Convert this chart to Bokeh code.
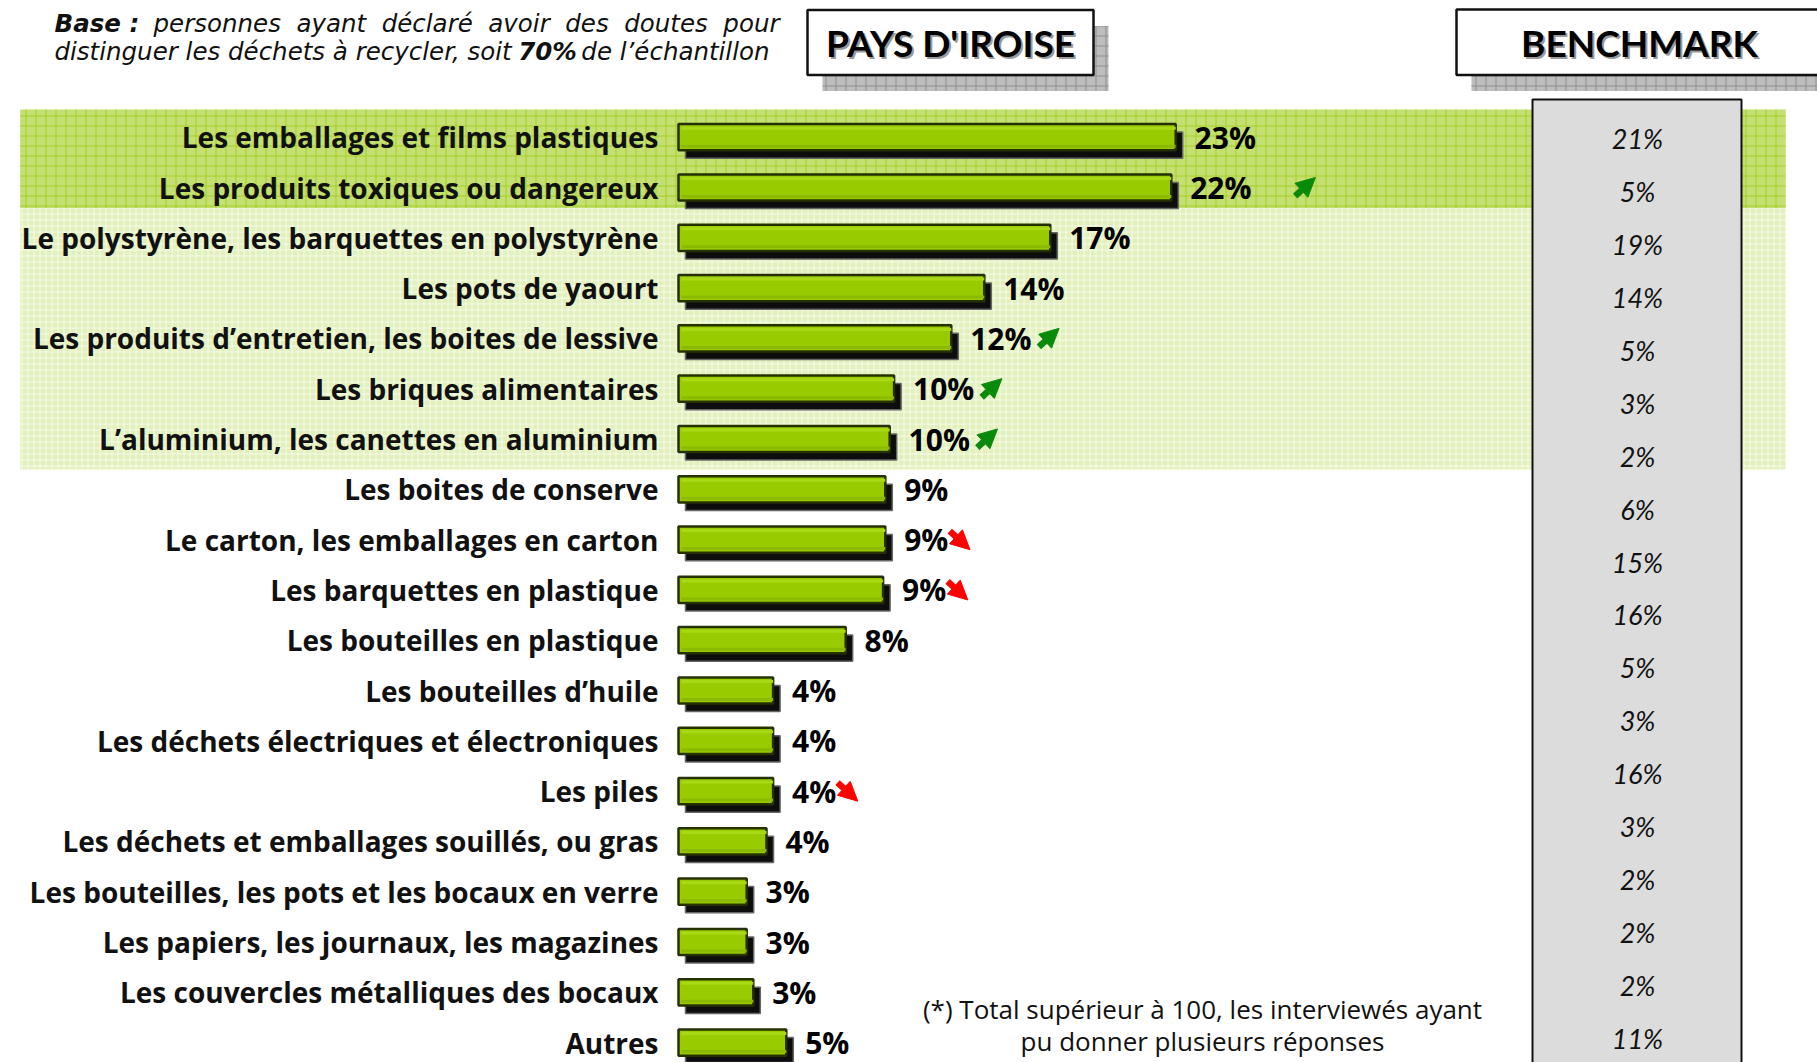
from bokeh.plotting import figure
from bokeh.models import ColumnDataSource, Range1d, Arrow, NormalHead
from bokeh.core.properties import value
from bokeh.embed import file_html
from bokeh.resources import INLINE

# ---------------- data ----------------
categories = [
    "Les emballages et films plastiques",
    "Les produits toxiques ou dangereux",
    "Le polystyrène, les barquettes en polystyrène",
    "Les pots de yaourt",
    "Les produits d’entretien, les boites de lessive",
    "Les briques alimentaires",
    "L’aluminium, les canettes en aluminium",
    "Les boites de conserve",
    "Le carton, les emballages en carton",
    "Les barquettes en plastique",
    "Les bouteilles en plastique",
    "Les bouteilles d’huile",
    "Les déchets électriques et électroniques",
    "Les piles",
    "Les déchets et emballages souillés, ou gras",
    "Les bouteilles, les pots et les bocaux en verre",
    "Les papiers, les journaux, les magazines",
    "Les couvercles métalliques des bocaux",
    "Autres",
]
values = [22.6, 22.4, 16.9, 13.9, 12.4, 9.8, 9.6, 9.4, 9.4, 9.3, 7.6,
          4.3, 4.3, 4.3, 4.0, 3.1, 3.1, 3.4, 4.9]
value_labels = ["23%", "22%", "17%", "14%", "12%", "10%", "10%", "9%", "9%", "9%", "8%",
                "4%", "4%", "4%", "4%", "3%", "3%", "3%", "5%"]
trend = ["", "up", "", "", "up", "up", "up", "", "down", "down", "",
         "", "", "down", "", "", "", "", ""]
benchmark = ["21%", "5%", "19%", "14%", "5%", "3%", "2%", "6%", "15%", "16%",
             "5%", "3%", "16%", "3%", "2%", "2%", "2%", "11%"]
highlight_dark_rows = 2      # first rows on darker green band
highlight_rows = 7           # rows on the green band

# ---------------- layout constants ----------------
W, H = 1817, 1062
PX = 22.0          # pixels per percent
X0 = 678.0         # canvas px of 0 %
ROW0, ROWH = 136.7, 50.3
BM0, BMH = 138.0, 52.94

def xr(px):
    return (px - X0) / PX

def yr(py):
    return (py - ROW0) / ROWH

LATO = value("Lato")
OPEN = value("Open Sans")
DEJA = value("DejaVu Sans")

p = figure(width=W, height=H, output_backend="svg", toolbar_location=None,
           x_range=Range1d(xr(0), xr(W)), y_range=Range1d(yr(H), yr(0)),
           x_axis_location=None, y_axis_location=None, min_border=0)
p.grid.visible = False
p.outline_line_color = None
p.background_fill_color = "white"
p.border_fill_color = "white"

def shifted(dx_px, dy_px):
    xname = f"x{dx_px}"
    yname = f"y{dy_px}"
    p.extra_x_ranges[xname] = Range1d(xr(0) - dx_px / PX, xr(W) - dx_px / PX)
    p.extra_y_ranges[yname] = Range1d(yr(H) - dy_px / ROWH, yr(0) - dy_px / ROWH)
    return xname, yname

p.extra_y_ranges["bm"] = Range1d((H - BM0) / BMH, -BM0 / BMH)

# ---------------- background bands ----------------
band_top = yr(109)
band_mid = (highlight_dark_rows - 1) + 0.41
band_bot = (highlight_rows - 1) + 0.606
p.quad(left=xr(19.7), right=xr(1785), top=band_top, bottom=band_mid,
       fill_color="#c4df72", line_color=None,
       hatch_pattern="+", hatch_color="#a6cf24", hatch_scale=10, hatch_weight=1)
p.quad(left=xr(19.7), right=xr(1785), top=band_mid, bottom=band_bot,
       fill_color="#e2f0bb", line_color=None,
       hatch_pattern="+", hatch_color="#f7fbea", hatch_scale=6, hatch_weight=1)

# ---------------- benchmark column ----------------
p.quad(left=xr(1532), right=xr(1741), top=yr(99), bottom=yr(H + 10),
       fill_color="#dcdcdc", line_color="#111111", line_width=2)

# ---------------- title boxes ----------------
for (l, r, t, b, txt, cx) in [(807, 1093, 9.5, 74.5, "PAYS D'IROISE", 950),
                              (1456, 1840, 9.0, 74.5, "BENCHMARK", 1639)]:
    p.quad(left=xr(l + 15), right=xr(r + 15), top=yr(t + 16), bottom=yr(b + 16),
           fill_color="#bdbdbd", line_color=None,
           hatch_pattern="+", hatch_color="#8f8f8f", hatch_scale=10, hatch_weight=1)
    p.quad(left=xr(l), right=xr(r), top=yr(t), bottom=yr(b),
           fill_color="white", line_color="#111111", line_width=2.5)
    p.text(x=[xr(cx + 2)], y=[yr((t + b) / 2 + 2)], text=[txt], text_font=LATO,
           text_font_style="bold", text_font_size="37px", text_color="#9a9a9a",
           text_align="center", text_baseline="middle")
    p.text(x=[xr(cx)], y=[yr((t + b) / 2)], text=[txt], text_font=LATO,
           text_font_style="bold", text_font_size="37px", text_color="#000000",
           text_align="center", text_baseline="middle")

# ---------------- bars ----------------
rows = list(range(len(categories)))
src = ColumnDataSource(dict(row=rows, val=values, cat=categories,
                            lab=[v for v in value_labels],
                            lab_x=[v + 0.86 for v in values]))

sx, sy = shifted(7, 8)
p.hbar(y="row", left=0, right="val", height=0.52, source=src,
       fill_color="#0d0d0d", line_color="#666666", line_width=1.5,
       x_range_name=sx, y_range_name=sy)
p.hbar(y="row", left=0, right="val", height=0.52, source=src,
       fill_color="#99cc00", line_color="#263000", line_width=2.5)
# light top / darker bottom inner strips
hx, hy = shifted(0, -9)
p.hbar(y="row", left=3 / PX, right="val", height=3 / ROWH, source=src,
       fill_color="#a9d916", line_color=None, x_range_name=hx, y_range_name=hy)
dx_, dy_ = shifted(0, 9)
p.hbar(y="row", left=3 / PX, right="val", height=3 / ROWH, source=src,
       fill_color="#8cba00", line_color=None, x_range_name=dx_, y_range_name=dy_)

# category labels
p.text(x=xr(658), y="row", text="cat", source=src, text_font=OPEN,
       text_font_style="bold", text_font_size="28px", text_color="#111111",
       text_align="right", text_baseline="middle")
# value labels
p.text(x="lab_x", y="row", text="lab", source=src, text_font=OPEN,
       text_font_style="bold", text_font_size="30px", text_color="#000000",
       text_align="left", text_baseline="middle")

# ---------------- trend arrows ----------------
for kind, color in [("up", "#0a8a0a"), ("down", "#ff0000")]:
    xs0, ys0, xs1, ys1 = [], [], [], []
    for i, t in enumerate(trend):
        if t != kind:
            continue
        two_digit = len(value_labels[i]) > 2
        off = 4.4 if two_digit else 3.35
        if i == 1:
            off = 6.05
        xc = values[i] + off
        if kind == "up":
            xs0.append(xc - 0.42); ys0.append(i + 0.17)
            xs1.append(xc + 0.5); ys1.append(i - 0.2)
        else:
            xs0.append(xc - 0.42); ys0.append(i - 0.17)
            xs1.append(xc + 0.5); ys1.append(i + 0.2)
    asrc = ColumnDataSource(dict(x0=xs0, y0=ys0, x1=xs1, y1=ys1))
    p.add_layout(Arrow(end=NormalHead(size=19, fill_color=color, line_color=color),
                       x_start="x0", y_start="y0", x_end="x1", y_end="y1",
                       source=asrc, line_color=color, line_width=6.5))

# ---------------- benchmark values ----------------
bsrc = ColumnDataSource(dict(k=list(range(len(benchmark))), b=benchmark))
p.text(x=xr(1637), y="k", text="b", source=bsrc, y_range_name="bm",
       text_font=LATO, text_font_style="italic", text_font_size="27px",
       text_color="#111111", text_align="center", text_baseline="middle")

# ---------------- header note ----------------
note_style = dict(text_font=DEJA, text_font_size="24.5px", text_color="#111111",
                  text_baseline="middle")
sp = " \u00a0"
p.text(x=[xr(54)], y=[yr(23)], text=["Base :"], text_font_style="bold italic",
       text_align="left", **note_style)
p.text(x=[xr(779)], y=[yr(23)],
       text=[sp.join("personnes ayant déclaré avoir des doutes pour".split())],
       text_font_style="italic", text_align="right", **note_style)
p.text(x=[xr(54)], y=[yr(51)], text=["distinguer les déchets à recycler, soit"],
       text_font_style="italic", text_align="left", **note_style)
p.text(x=[xr(547)], y=[yr(51)], text=["70%"], text_font_style="bold italic",
       text_align="center", **note_style)
p.text(x=[xr(769)], y=[yr(51)], text=["de l’échantillon"],
       text_font_style="italic", text_align="right", **note_style)

# ---------------- footnote ----------------
p.text(x=[xr(1202), xr(1202)], y=[yr(1008), yr(1040)],
       text=["(*) Total supérieur à 100, les interviewés ayant",
             "pu donner plusieurs réponses"],
       text_font=OPEN, text_font_size="26px", text_color="#111111",
       text_align="center", text_baseline="middle")

open("out.html", "w").write(file_html(p, INLINE))
